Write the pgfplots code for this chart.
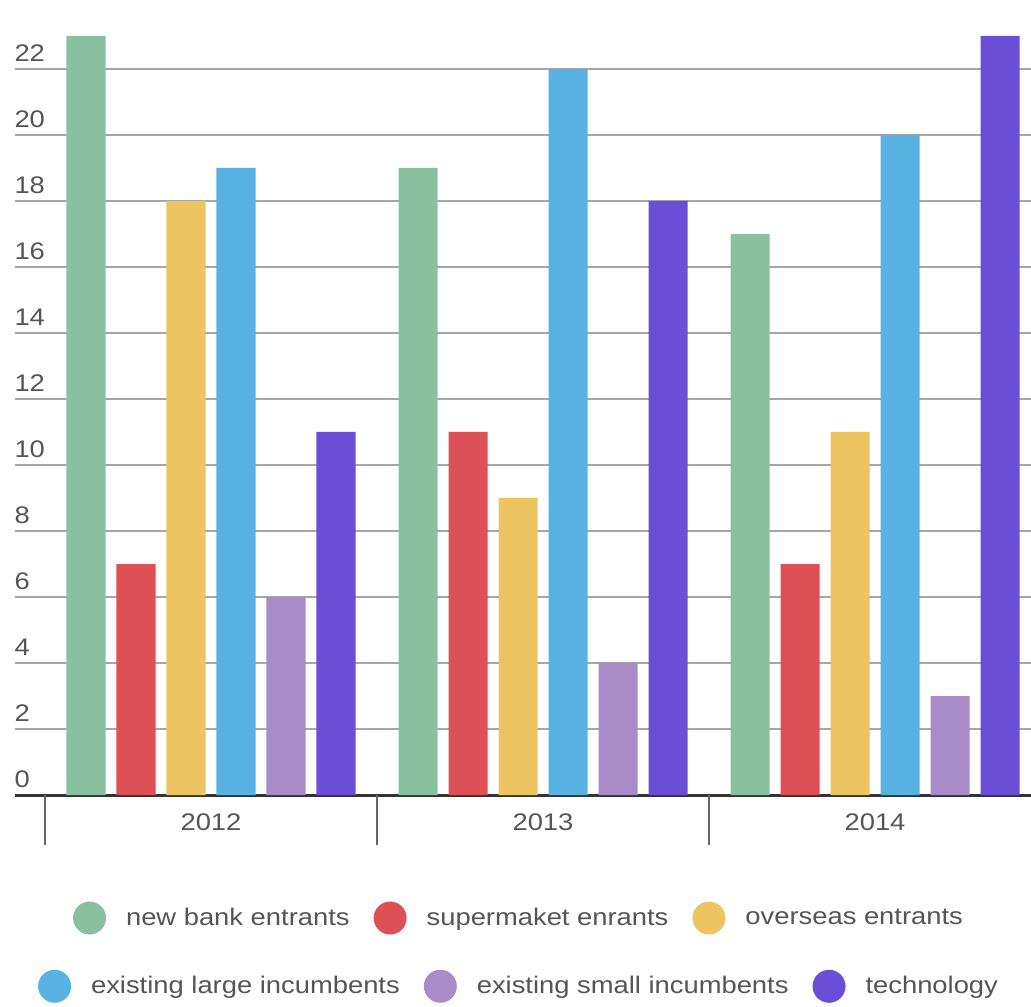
\documentclass[border=0pt]{standalone}
\usepackage{pgfplots}
\pgfplotsset{compat=1.18}
\usepackage{fontspec}
\setmainfont[FakeStretch=1.14]{Liberation Sans}
\definecolor{cgreen}{HTML}{88C0A0}
\definecolor{cred}{HTML}{DD5055}
\definecolor{cyellow}{HTML}{ECC462}
\definecolor{cblue}{HTML}{58B2E2}
\definecolor{cpurple}{HTML}{A88CC8}
\definecolor{ctech}{HTML}{6A4FD6}
\definecolor{ctext}{HTML}{555555}
\pgfplotsset{
  circ legend/.style={legend image code/.code={\fill[##1,draw=none] (8.25pt,0pt) circle (8.25pt);}},
  common/.style={
    x=166pt, y=16.5pt, anchor=origin, at={(0pt,0pt)},
    xmin=-0.59, xmax=2.47, ymin=0, ymax=24.1,
    clip=false,
    legend style={draw=none, fill=none, legend columns=-1, anchor=center,
      font=\fontsize{12}{14}\selectfont\color{ctext},
      nodes={inner sep=0pt},
      /tikz/every odd column/.append style={column sep=10pt},
      /tikz/every even column/.append style={column sep=12pt}},
  },
}
\begin{document}
\begin{tikzpicture}
\useasboundingbox (-105.5pt,-105.5pt) rectangle (410pt,397.5pt);
\begin{axis}[
  common,
  axis lines*=left,
  y axis line style={draw=none},
  x axis line style={draw=black!80, line width=1.5pt},
  ymajorgrids,
  grid style={draw=black!35, line width=0.6pt},
  ytick={0,2,...,22},
  major tick length=0pt,
  yticklabel style={anchor=south west, inner sep=0pt, xshift=-0.5pt, yshift=3.5pt, font=\fontsize{12}{14}\selectfont, text=ctext},
  /pgf/number format/assume math mode=true,
  xtick={0,1,2},
  xticklabels={2012,2013,2014},
  xticklabel style={font=\fontsize{12}{14}\selectfont, text=ctext, inner sep=0pt, yshift=-9pt},
  extra x ticks={-0.5,0.5,1.5,2.5},
  extra x tick labels={},
  extra x tick style={major tick length=25pt, tick align=outside, tick style={draw=black!60, line width=0.9pt}},
  legend style={at={(0.495,-0.1547)}},
  bar width=0.1175,
]
\addplot[ybar, fill=cgreen, draw=none, bar shift=-0.3765, circ legend] coordinates {(0,23) (1,19) (2,17)};
\addlegendentry{new bank entrants}
\addplot[ybar, fill=cred, draw=none, bar shift=-0.2259, circ legend] coordinates {(0,7) (1,11) (2,7)};
\addlegendentry{supermaket enrants}
\addplot[ybar, fill=cyellow, draw=none, bar shift=-0.0753, circ legend] coordinates {(0,18) (1,9) (2,11)};
\addlegendentry{overseas entrants}
\addplot[ybar, fill=cblue, draw=none, bar shift=0.0753, forget plot] coordinates {(0,19) (1,22) (2,20)};
\addplot[ybar, fill=cpurple, draw=none, bar shift=0.2259, forget plot] coordinates {(0,6) (1,4) (2,3)};
\addplot[ybar, fill=ctech, draw=none, bar shift=0.3765, forget plot] coordinates {(0,11) (1,18) (2,23)};
\end{axis}
\begin{axis}[
  common,
  hide axis,
  legend style={at={(0.495,-0.2405)}},
]
\addlegendimage{fill=cblue, circ legend}
\addlegendentry{existing large incumbents}
\addlegendimage{fill=cpurple, circ legend}
\addlegendentry{existing small incumbents}
\addlegendimage{fill=ctech, circ legend}
\addlegendentry{technology}
\end{axis}
\end{tikzpicture}
\end{document}
